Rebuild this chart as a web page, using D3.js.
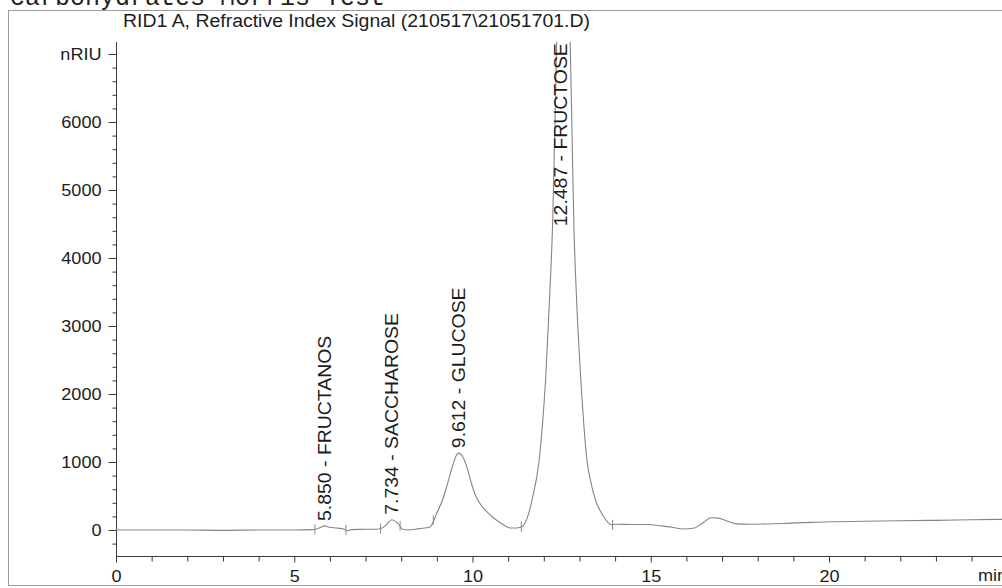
<!DOCTYPE html>
<html><head><meta charset="utf-8">
<script src="https://cdn.jsdelivr.net/npm/d3@7"></script>
<style>
body{margin:0;background:#fff}
svg{display:block}
text{font-family:"Liberation Sans",Arial,Helvetica,sans-serif;fill:#1c1c1c}
</style>
</head><body>
<svg id="c" width="1002" height="588"></svg>
<script>
// ---------------- data ----------------
const headerText = "carbohydrates Morris Test";
const titleText = "RID1 A, Refractive Index Signal (210517\\21051701.D)";
const yUnit = "nRIU";
const xUnit = "min";
const xTickLabels = [0, 5, 10, 15, 20];
const yTickLabels = [0, 1000, 2000, 3000, 4000, 5000, 6000, 7000];
const peakTimes = [5.850, 7.734, 9.612, 12.487];
const peakNames = ["FRUCTANOS", "SACCHAROSE", "GLUCOSE", "FRUCTOSE"];
const peakHeights = [60, 150, 1130, 9600];
const signalTime = [
  0, 1, 2, 3, 4, 5, 5.5,
  5.6, 5.75, 5.85, 6.0, 6.2, 6.4, 6.5, 6.6, 7.0, 7.4,
  7.55, 7.734, 7.9, 8.05, 8.2, 8.5, 8.8,
  9.0, 9.15, 9.3, 9.45, 9.55, 9.62, 9.72, 9.82, 9.92, 10.02, 10.12, 10.25, 10.4, 10.55, 10.7, 10.9, 11.05, 11.25, 11.4,
  11.55, 11.67, 11.87, 11.97, 12.05, 12.16, 12.25, 12.31, 12.36, 12.487, 12.6, 12.74, 12.79, 12.84, 12.92, 13.04, 13.21, 13.33, 13.45, 13.65, 13.91,
  14.0, 14.5, 14.9, 15.3, 15.6, 15.9, 16.2, 16.45, 16.7, 16.9, 17.1, 17.4, 17.8, 18.25, 18.7, 19.2, 19.7, 20.1, 21.0, 22.0, 23.0, 24.0, 24.9
];
const signalValue = [
  0, 0, 0, -5, 0, 0, 5,
  10, 40, 60, 40, 30, 10, -10, 5, 10, 15,
  60, 150, 100, 10, 0, 20, 40,
  250, 430, 680, 960, 1100, 1130, 1080, 960, 780, 600, 470, 360, 270, 195, 135, 65, 30, 30, 50,
  200, 441, 1029, 1600, 2206, 3382, 4559, 5882, 7160, 9600, 9000, 7160, 5882, 4559, 3382, 2206, 1029, 680, 441, 220, 74,
  85, 80, 80, 60, 40, 15, 25, 100, 180, 175, 140, 90, 85, 88, 95, 108, 115, 122, 128, 137, 142, 150, 157
];
const markerTimes = [5.58, 6.45, 7.42, 7.97, 8.9, 11.37, 13.93];

// ---------------- layout ----------------
const svg = d3.select("#c");
const W = 1002, H = 588;
const x = d3.scaleLinear().domain([0, 25]).range([116, 116 + 25 * 35.65]);
const y = d3.scaleLinear().domain([0, 7000]).range([530, 54]);
const plotTop = 42, plotBottom = 556;
const tickFont = 16, tickStretch = 1.13;
const axisColor = "#3a3a3a";

// frame
svg.append("line").attr("x1", 8).attr("x2", W).attr("y1", 10.5).attr("y2", 10.5)
  .attr("stroke", "#9a9a9a").attr("stroke-width", 1);
svg.append("line").attr("x1", 8.5).attr("x2", 8.5).attr("y1", 10).attr("y2", 586)
  .attr("stroke", "#9a9a9a").attr("stroke-width", 1);
svg.append("line").attr("x1", 8).attr("x2", W).attr("y1", 585.5).attr("y2", 585.5)
  .attr("stroke", "#9a9a9a").attr("stroke-width", 1);

// header (cut off at top)
svg.append("text").attr("x", 10).attr("y", 5)
  .style("font-family", "'Liberation Mono','Courier New',monospace")
  .style("font-size", "25px").style("fill", "#222")
  .text(headerText);

// title
svg.append("text").attr("x", 123).attr("y", 27)
  .style("font-size", "18px")
  .attr("textLength", 467).attr("lengthAdjust", "spacingAndGlyphs")
  .text(titleText);

// y axis
const yMinor = d3.range(-200, 7001, 200).filter(v => v % 1000 !== 0);
const gyMinor = svg.append("g").attr("transform", "translate(116.5,0)")
  .call(d3.axisLeft(y).tickValues(yMinor).tickSize(4).tickFormat(""));
const gy = svg.append("g").attr("transform", "translate(116.5,0)")
  .call(d3.axisLeft(y).tickValues(yTickLabels).tickSize(8).tickPadding(15 / tickStretch - 8)
    .tickFormat(d => d === 7000 ? yUnit : d));
[gy, gyMinor].forEach(g => {
  g.select(".domain").remove();
  g.selectAll("line").attr("stroke", axisColor);
});
gy.selectAll("text").style("font-size", tickFont + "px").style("font-family", null)
  .attr("transform", `scale(${tickStretch},1)`).attr("fill", "#1c1c1c");
svg.append("line").attr("x1", 116.5).attr("x2", 116.5).attr("y1", plotTop).attr("y2", plotBottom)
  .attr("stroke", axisColor).attr("stroke-width", 1);

// x axis
const xMinor = d3.range(0, 25, 1).filter(v => v % 5 !== 0);
const gxMinor = svg.append("g").attr("transform", `translate(0,${plotBottom + 0.5})`)
  .call(d3.axisBottom(x).tickValues(xMinor).tickSize(5).tickFormat(""));
const gx = svg.append("g").attr("transform", `translate(0,${plotBottom + 0.5})`)
  .call(d3.axisBottom(x).tickValues(xTickLabels).tickSize(6).tickPadding(8));
[gx, gxMinor].forEach(g => {
  g.select(".domain").remove();
  g.selectAll("line").attr("stroke", axisColor);
});
gx.selectAll("text").style("font-size", tickFont + "px").style("font-family", null)
  .attr("transform", `scale(${tickStretch},1)`).attr("fill", "#1c1c1c");
svg.append("line").attr("x1", 116).attr("x2", W).attr("y1", plotBottom + 0.5).attr("y2", plotBottom + 0.5)
  .attr("stroke", axisColor).attr("stroke-width", 1);
svg.append("text").attr("x", 978).attr("y", plotBottom + 14 + 0.71 * tickFont)
  .style("font-size", tickFont + "px")
  .attr("transform", `translate(978,0) scale(${tickStretch},1) translate(-978,0)`)
  .text(xUnit);

// signal
svg.append("clipPath").attr("id", "plotclip").append("rect")
  .attr("x", 116).attr("y", plotTop).attr("width", W - 116).attr("height", plotBottom - plotTop);
const pts = d3.zip(signalTime, signalValue);
const line = d3.line().x(d => x(d[0])).y(d => y(d[1])).curve(d3.curveMonotoneX);
svg.append("path").datum(pts).attr("d", line)
  .attr("clip-path", "url(#plotclip)")
  .attr("fill", "none").attr("stroke", "#858585").attr("stroke-width", 1.1);

// integration markers
const interp = t => {
  const i = d3.bisectLeft(signalTime, t);
  if (i <= 0) return signalValue[0];
  const t0 = signalTime[i - 1], t1 = signalTime[i];
  return signalValue[i - 1] + (signalValue[i] - signalValue[i - 1]) * (t - t0) / (t1 - t0);
};
svg.append("g").selectAll("line").data(markerTimes).join("line")
  .attr("x1", d => x(d)).attr("x2", d => x(d))
  .attr("y1", d => y(interp(d)) - 5).attr("y2", d => y(interp(d)) + 5)
  .attr("stroke", "#8a8a8a").attr("stroke-width", 1);

// peak labels
const labelFont = 17.5, labelStretch = 1.11;
peakTimes.forEach((t, i) => {
  const px = x(t) + 6;
  const apexY = Math.max(y(peakHeights[i]), plotTop);
  const txt = svg.append("text").style("font-size", labelFont + "px")
    .text(`${t.toFixed(3)} - ${peakNames[i]}`);
  const len = txt.node().getComputedTextLength() * labelStretch;
  const startY = Math.max(apexY - 5, plotTop + len + 1);
  txt.attr("transform", `translate(${px},${startY}) rotate(-90) scale(${labelStretch},1)`);
});
</script>
</body></html>
